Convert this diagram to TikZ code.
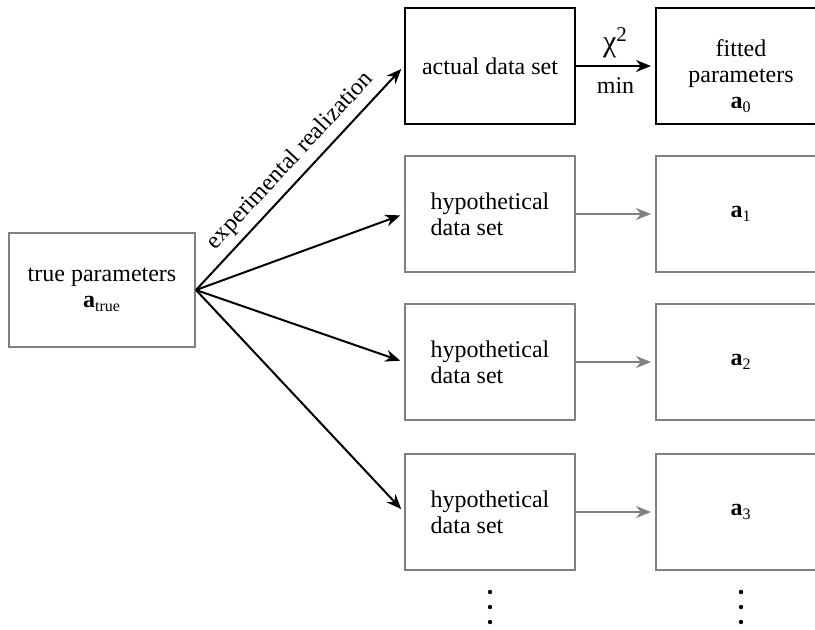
\documentclass[tikz,border=0pt]{standalone}
\usepackage{fontspec}
\setmainfont{Liberation Serif}
\usetikzlibrary{arrows.meta}

\begin{document}
\begin{tikzpicture}[x=0.5pt,y=-0.5pt,font=\fontsize{12}{13}\selectfont,
      realbox/.style={draw=black,line width=1pt,minimum width=85pt,minimum height=58pt,inner sep=0pt,align=center},
      hypobox/.style={draw=gray,line width=1pt,minimum width=85pt,minimum height=58pt,inner sep=0pt,align=left},
      realarrow/.style={-{Stealth[length=7.5pt,width=6pt]},line width=1pt,shorten >=2pt},
      hypoarrow/.style={-{Stealth[length=7.5pt,width=6pt]},line width=1pt,gray,shorten >=2pt}]
      \useasboundingbox (0,0) rectangle (815,629);
      \node[hypobox,minimum width=93pt,minimum height=57pt,align=center] (true) at (102,290)
        {true parameters\\\textbf{a}\textsubscript{true}};
      \node[realbox] (actual) at (490,66) {actual data set};
      \node[realbox,label={[align=center,yshift=-5pt]center:fitted\\parameters\\\textbf{a}\textsubscript{0}}]
        (fitted) at (741,66) {};
      \foreach \i/\y in {1/214,2/362,3/512} {
        \node[hypobox] (hypo\i) at (490,\y) {hypothetical\\data set};
        \node[hypobox] (fit\i) at (741,\y) {\textbf{a}\textsubscript{\i}};
        \draw[realarrow] (true.east) -- (hypo\i.west);
        \draw[hypoarrow] (hypo\i) -- (fit\i);
      }
      \draw[realarrow] (true.east) -- (actual.west)
        node[pos=0.52,sloped,above] {experimental realization};
      \draw[realarrow] (actual) -- (fitted)
        node[midway,above,font=\fontsize{15}{15}\selectfont] {χ\textsuperscript{2}}
        node[midway,below,yshift=-2pt] {min};
      % dots
      \foreach \x in {490,741}
        \foreach \y in {592,607,622}
          \fill (\x,\y) circle (1.1pt);
\end{tikzpicture}
\end{document}
